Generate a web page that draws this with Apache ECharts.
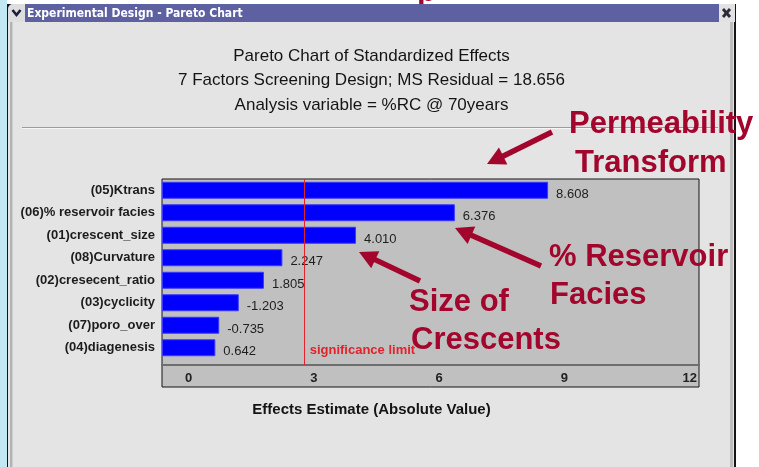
<!DOCTYPE html>
<html>
<head>
<meta charset="utf-8">
<script src="https://cdn.jsdelivr.net/npm/echarts@6/dist/echarts.min.js"></script>
<style>
  html, body { margin: 0; padding: 0; background: #ffffff; }
  #chart { width: 759px; height: 467px; }
</style>
</head>
<body>
<div id="chart"></div>
<script>
// Factors in Pareto order (largest effect first)
const FACTORS = [
  '(05)Ktrans',
  '(06)% reservoir facies',
  '(01)crescent_size',
  '(08)Curvature',
  '(02)cresecent_ratio',
  '(03)cyclicity',
  '(07)poro_over',
  '(04)diagenesis'
];
// Signed standardized effect estimates; bars show the absolute value
const EFFECTS = [8.608, 6.376, 4.010, 2.247, 1.805, -1.203, -0.735, 0.642];
const SCALE_TICKS = [0, 3, 6, 9, 12];
const SIG_LIMIT = 2.776;
const SIG_LABEL = 'significance limit';

const TITLE_LINES = [
  'Pareto Chart of Standardized Effects',
  '7 Factors Screening Design; MS Residual = 18.656',
  'Analysis variable = %RC @ 70years'
];
const AXIS_NAME = 'Effects Estimate (Absolute Value)';
const WINDOW_TITLE = 'Experimental Design - Pareto Chart';
const CALLOUT_PERM = ['Permeability', 'Transform'];
const CALLOUT_FACIES = ['% Reservoir', 'Facies'];
const CALLOUT_SIZE = ['Size of', 'Crescents'];

const FONT = '"Liberation Sans", Arial, Helvetica, sans-serif';
const NARROW = '"Liberation Sans Narrow", "DejaVu Sans Condensed", "Liberation Sans", sans-serif';
const DARK_RED = '#a3062c';
const X_MIN = -0.635, X_MAX = 12.22;

function arrow(x1, y1, x2, y2) {
  const dx = x2 - x1, dy = y2 - y1, len = Math.hypot(dx, dy);
  const ux = dx / len, uy = dy / len, nx = -uy, ny = ux;
  const hl = 18, hw = 9.5;
  const bx = x2 - ux * hl, by = y2 - uy * hl;
  return [
    { type: 'line', silent: true, z: 100,
      shape: { x1: x1, y1: y1, x2: bx + ux * 2, y2: by + uy * 2 },
      style: { stroke: DARK_RED, lineWidth: 5.5 } },
    { type: 'polygon', silent: true, z: 100,
      shape: { points: [[x2, y2], [bx + nx * hw, by + ny * hw], [bx - nx * hw, by - ny * hw]] },
      style: { fill: DARK_RED } }
  ];
}

function calloutText(text, x, y) {
  return { type: 'text', silent: true, z: 100, x: x, y: y,
    style: { text: text, fill: DARK_RED, font: 'bold 31px ' + FONT, align: 'left', verticalAlign: 'middle' } };
}

const chrome = [
  // desktop strip on the left
  { type: 'rect', silent: true, z: -20, shape: { x: 0, y: 0, width: 7, height: 467 }, style: { fill: '#c3e7f5' } },
  // slide heading peeking in from above
  { type: 'text', silent: true, z: -19, x: 417, y: -8,
    style: { text: 'p', fill: DARK_RED, font: 'bold 31px ' + FONT, verticalAlign: 'middle' } },
  // window outline and body
  { type: 'rect', silent: true, z: -18, shape: { x: 7, y: 4, width: 729, height: 470 }, style: { fill: '#151515' } },
  { type: 'rect', silent: true, z: -17, shape: { x: 8, y: 22, width: 726, height: 460 }, style: { fill: '#e4e4e4' } },
  { type: 'rect', silent: true, z: -16, shape: { x: 10, y: 22, width: 2.5, height: 460 }, style: { fill: '#b3b3b3' } },
  { type: 'rect', silent: true, z: -16, shape: { x: 730, y: 22, width: 3, height: 460 }, style: { fill: '#bdbdbd' } },
  // title bar
  { type: 'rect', silent: true, z: -16, shape: { x: 8, y: 4, width: 711, height: 18, r: [5, 0, 0, 0] }, style: { fill: '#5d61a1' } },
  { type: 'rect', silent: true, z: -15, shape: { x: 8, y: 4, width: 17, height: 18, r: [5, 0, 0, 0] }, style: { fill: '#dedede' } },
  { type: 'polyline', silent: true, z: -14, shape: { points: [[12.5, 10], [16.5, 15], [20.5, 10]] },
    style: { stroke: '#1b1d3a', lineWidth: 2.6, fill: null } },
  { type: 'text', silent: true, z: -14, x: 27, y: 13.5,
    style: { text: WINDOW_TITLE, fill: '#ffffff', font: 'bold 12px ' + NARROW, verticalAlign: 'middle' } },
  { type: 'rect', silent: true, z: -15, shape: { x: 719, y: 4, width: 16, height: 18 }, style: { fill: '#e2e2e2' } },
  { type: 'line', silent: true, z: -14, shape: { x1: 723, y1: 9, x2: 730, y2: 17 }, style: { stroke: '#2a2a3a', lineWidth: 2.8 } },
  { type: 'line', silent: true, z: -14, shape: { x1: 730, y1: 9, x2: 723, y2: 17 }, style: { stroke: '#2a2a3a', lineWidth: 2.8 } },
  // rule under the heading
  { type: 'line', silent: true, z: -14, shape: { x1: 22, y1: 127.5, x2: 718, y2: 127.5 }, style: { stroke: '#9c9c9c', lineWidth: 1 } },
  { type: 'line', silent: true, z: -14, shape: { x1: 22, y1: 128.5, x2: 718, y2: 128.5 }, style: { stroke: '#f6f6f6', lineWidth: 1 } }
];

const callouts = [
  calloutText(CALLOUT_PERM[0], 569, 124),
  calloutText(CALLOUT_PERM[1], 575, 163),
  calloutText(CALLOUT_FACIES[0], 549, 257),
  calloutText(CALLOUT_FACIES[1], 550, 295),
  calloutText(CALLOUT_SIZE[0], 409, 302),
  calloutText(CALLOUT_SIZE[1], 411, 340)
].concat(arrow(552, 132, 487, 164), arrow(541, 266, 455, 228), arrow(420, 281, 359, 252));

const chart = echarts.init(document.getElementById('chart'), null, { renderer: 'canvas' });

const option = {
  backgroundColor: '#ffffff',
  animation: false,
  title: TITLE_LINES.map(function (t, i) {
    return {
      text: t, left: 371.5, textAlign: 'center', top: 46 + i * 24.5, padding: 0,
      textStyle: { fontFamily: FONT, fontSize: 17, fontWeight: 'normal', color: '#141414', lineHeight: 20 }
    };
  }),
  grid: [
    // frame: plot body plus scale band
    { left: 162, top: 179, width: 537, height: 208, show: true, backgroundColor: '#c0c0c0',
      borderColor: '#141414', borderWidth: 1, containLabel: false },
    // scale: separator line, tick labels, significance limit
    { left: 162, top: 179, width: 537, height: 186, containLabel: false },
    // bars
    { left: 162, top: 179, width: 537, height: 180, containLabel: false }
  ],
  xAxis: [
    { gridIndex: 0, type: 'value', min: X_MIN, max: X_MAX, show: false },
    { gridIndex: 1, type: 'value', min: X_MIN, max: X_MAX, position: 'bottom',
      axisLine: { show: true, onZero: false, lineStyle: { color: '#6e6e6e', width: 2 } },
      axisTick: { show: false }, splitLine: { show: false },
      axisLabel: { customValues: SCALE_TICKS, margin: 7, fontFamily: FONT, fontSize: 13, fontWeight: 'bold', color: '#222222' },
      name: AXIS_NAME, nameLocation: 'middle', nameGap: 37,
      nameTextStyle: { fontFamily: FONT, fontSize: 15, fontWeight: 'bold', color: '#141414', padding: [0, 118, 0, 0] } },
    { gridIndex: 2, type: 'value', min: X_MIN, max: X_MAX, startValue: X_MIN, show: false }
  ],
  yAxis: [
    { gridIndex: 0, type: 'value', min: 0, max: 1, show: false },
    { gridIndex: 1, type: 'value', min: 0, max: 1, show: false },
    { gridIndex: 2, type: 'category', data: FACTORS, inverse: true,
      axisLine: { show: false }, axisTick: { show: false }, splitLine: { show: false },
      axisLabel: { margin: 7, fontFamily: FONT, fontSize: 13, fontWeight: 'bold', color: '#1c1c1c' } }
  ],
  series: [
    {
      name: SIG_LABEL, type: 'line', xAxisIndex: 1, yAxisIndex: 1, data: [],
      markLine: {
        silent: true, symbol: 'none', animation: false,
        lineStyle: { color: '#e3222b', width: 1, type: 'solid' },
        label: { show: true, position: 'start', distance: 0, formatter: SIG_LABEL,
          align: 'left', verticalAlign: 'bottom', padding: [0, 0, 8, 5],
          fontFamily: FONT, fontSize: 13, fontWeight: 'bold', color: '#e3222b' },
        emphasis: { disabled: true },
        data: [{ xAxis: SIG_LIMIT }]
      }
    },
    {
      name: 'Effect', type: 'bar', xAxisIndex: 2, yAxisIndex: 2,
      data: EFFECTS.map(function (v) { return Math.abs(v); }),
      barWidth: 17,
      itemStyle: { color: '#0000fc', borderColor: '#3a3aff', borderWidth: 1 },
      label: {
        show: true, position: 'right', distance: 8, offset: [0, 4],
        fontFamily: FONT, fontSize: 13, color: '#1e1e1e',
        formatter: function (p) { return EFFECTS[p.dataIndex].toFixed(3); }
      }
    }
  ],
  graphic: chrome.concat(callouts)
};

chart.setOption(option);
</script>
</body>
</html>
